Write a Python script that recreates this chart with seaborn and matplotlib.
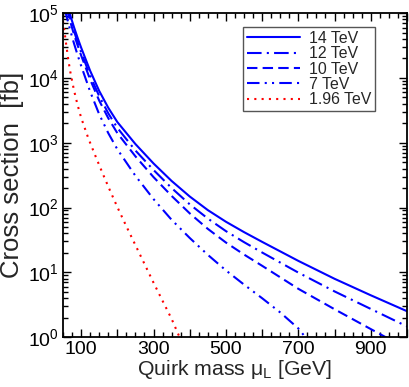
import numpy as np
import pandas as pd
import matplotlib
matplotlib.use("Agg")
import matplotlib.pyplot as plt
import matplotlib.ticker as mticker
import seaborn as sns

# quirk mass grid [GeV] and cross sections [fb]
mass = [60, 70, 80, 90, 100, 125, 150, 175, 200, 250, 300, 350, 400,
        450, 500, 550, 600, 700, 800, 900, 1000]
xs_14 = [148000, 93300, 61700, 42200, 29500, 12900, 6310, 3470, 2090, 955,
         479, 257, 148, 91.2, 60.3, 41.7, 29.5, 15.0, 7.94, 4.42, 2.51]
xs_12 = [132000, 82200, 53700, 36300, 25100, 10800, 5250, 2850, 1700, 759,
         380, 200, 112, 67.6, 43.2, 29.2, 20.2, 9.89, 5.07, 2.72, 1.46]
xs_10 = [120000, 74100, 47900, 32400, 22400, 9440, 4470, 2400, 1410, 617,
         295, 151, 81.3, 46.8, 28.8, 18.8, 12.6, 5.56, 2.69, 1.33, 0.66]

mass_7 = [55, 60, 70, 80, 90, 100, 125, 150, 175, 200, 250, 300, 350, 400,
          450, 500, 550, 600, 650, 700, 725]
xs_7 = [115000, 89100, 54300, 34700, 22900, 15500, 6170, 2750, 1410, 794,
        309, 135, 64.6, 33.9, 18.6, 10.7, 6.46, 3.98, 2.40, 1.36, 0.91]

mass_tev = [50, 55, 60, 65, 70, 80, 90, 100, 120, 140, 160, 180, 200, 225,
            250, 275, 300, 325, 350, 375]
xs_tev = [75900, 47900, 29500, 18600, 12600, 6610, 3890, 2450, 1170, 617,
          331, 182, 102, 51.3, 26.3, 13.5, 6.92, 3.63, 1.91, 0.91]

labels = ["14 TeV", "12 TeV", "10 TeV", "7 TeV", "1.96 TeV"]

sns.set_theme(style="ticks")
plt.rcParams["font.family"] = ["Liberation Sans", "DejaVu Sans"]
plt.rcParams["mathtext.fontset"] = "custom"
plt.rcParams["mathtext.rm"] = "Liberation Sans"
plt.rcParams["mathtext.it"] = "Liberation Sans:italic"

fig = plt.figure(figsize=(4.09, 3.87), dpi=100)
ax = fig.add_axes([0.154, 0.129, 0.841, 0.837])
ax.set_yscale("log")

series = [
    (mass, xs_14, labels[0], "#0000ff", "-"),
    (mass, xs_12, labels[1], "#0000ff", (0, (7, 2.5, 1, 2.5))),
    (mass, xs_10, labels[2], "#0000ff", (0, (5, 2.5))),
    (mass_7, xs_7, labels[3], "#0000ff", (0, (6, 2.5, 1, 2.5, 1, 2.5))),
    (mass_tev, xs_tev, labels[4], "#ff0000", (0, (1, 2.5))),
]
for x, y, lab, col, ls in series:
    df = pd.DataFrame({"mass": x, "xs": y})
    sns.lineplot(data=df, x="mass", y="xs", color=col, linestyle=ls,
                 linewidth=1.5, label=lab, ax=ax)

ax.set_xlim(50, 1000)
ax.set_ylim(1, 1e5)

ax.xaxis.set_major_locator(mticker.MultipleLocator(100))
ax.xaxis.set_minor_locator(mticker.MultipleLocator(25))
ax.xaxis.set_major_formatter(mticker.FuncFormatter(
    lambda v, p: f"{int(round(v))}" if int(round(v / 100)) % 2 == 1 else ""))
ax.yaxis.set_major_locator(mticker.LogLocator(base=10, numticks=10))
ax.yaxis.set_minor_locator(mticker.LogLocator(base=10, subs=np.arange(2, 10), numticks=20))
ax.yaxis.set_minor_formatter(mticker.NullFormatter())

ax.tick_params(which="both", direction="in", top=True, right=True,
               labelsize=14, colors="black", width=1)
ax.tick_params(which="major", length=6, pad=3)
ax.tick_params(which="minor", length=3.5)
for s in ax.spines.values():
    s.set_linewidth(1.3)
    s.set_color("black")

ax.set_xlabel("Quirk mass μ$_\\mathrm{L}$ [GeV]", fontsize=15.3, labelpad=0)
ax.set_ylabel("Cross section  [fb]", fontsize=18.5, labelpad=3)

leg = ax.legend(loc="upper right", bbox_to_anchor=(0.907, 0.957), borderaxespad=0,
                fontsize=11.4, handlelength=3.35, handletextpad=0.6,
                labelspacing=0.03, borderpad=0.22, fancybox=False, framealpha=1,
                edgecolor="#555555")
leg.get_frame().set_linewidth(1.0)

plt.savefig("out.png", dpi=100)
